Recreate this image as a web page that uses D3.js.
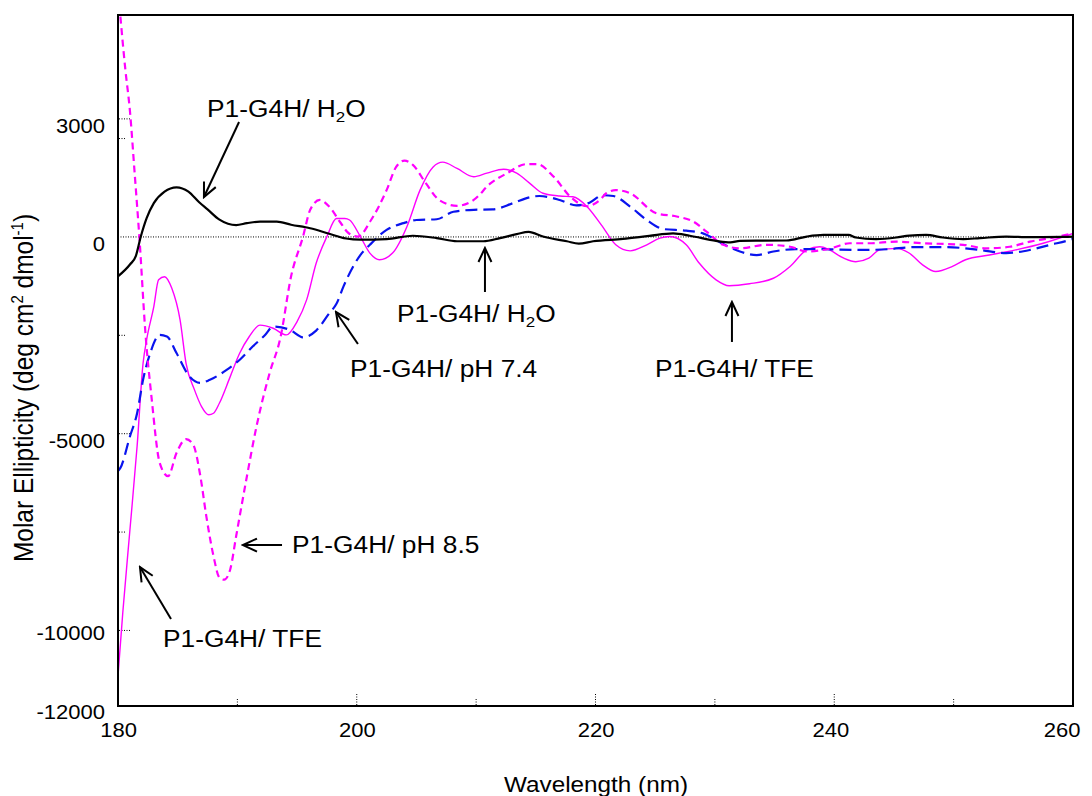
<!DOCTYPE html>
<html>
<head>
<meta charset="utf-8">
<script src="https://cdn.jsdelivr.net/npm/d3@7"></script>
<style>
  html, body { margin: 0; padding: 0; background: #fff; }
  svg { display: block; font-family: "Liberation Sans", Arial, Helvetica, sans-serif; }
</style>
</head>
<body>
<svg id="chart" width="1092" height="796"></svg>
<script>
// ---------- data (wavelength nm, molar ellipticity) ----------
const h2oData = [[180.0,-1000],[181.0,-700],[181.5,-480],[181.9,0],[182.4,480],[183.0,860],[183.9,1150],[184.9,1260],[185.9,1150],[186.8,880],[187.5,700],[188.5,440],[189.9,300],[190.8,350],[191.9,390],[193.3,390],[194.5,310],[196.1,220],[197.7,80],[199.1,-40],[200.3,-70],[202.5,-55],[204.7,30],[206.7,-30],[208.4,-110],[210.6,-110],[212.0,-30],[213.4,70],[214.4,130],[215.6,10],[217.6,-110],[218.6,-170],[219.8,-110],[222.3,-50],[224.5,25],[226.5,90],[227.9,30],[230.1,-100],[231.3,-140],[232.1,-100],[236.0,-90],[237.7,10],[239.1,50],[241.2,50],[241.8,-15],[243.5,-55],[245.2,-15],[246.3,35],[247.7,50],[249.1,-15],[250.8,-55],[252.2,-30],[254.4,10],[256.4,-5],[259.2,0],[260,10]];

const ph85Data = [[180.2,5600],[180.6,4300],[181.0,3200],[181.4,1600],[181.8,-50],[182.3,-2450],[182.8,-4050],[183.5,-5750],[184.2,-6080],[184.9,-5490],[185.7,-5140],[186.3,-5280],[186.9,-6080],[187.4,-7100],[188.0,-8110],[188.5,-8660],[188.9,-8710],[189.4,-8450],[189.9,-7600],[190.8,-6080],[191.6,-4820],[192.7,-3460],[193.6,-2570],[194.5,-1000],[195.5,10],[196.1,690],[196.9,940],[197.7,770],[198.6,380],[199.3,100],[200.1,10],[201.2,430],[202.5,1190],[203.3,1780],[204.0,1940],[204.7,1830],[205.8,1360],[206.9,940],[208.4,790],[209.8,940],[211.2,1360],[212.6,1620],[214.2,1850],[215.1,1850],[216.5,1530],[217.9,1020],[219.3,780],[220.4,950],[220.9,1110],[221.7,1190],[222.9,1110],[225.1,600],[226.8,520],[228.2,390],[229.3,135],[230.7,-200],[232.1,-290],[234.3,-200],[236.3,-250],[237.7,-370],[239.6,-300],[241.3,-160],[242.9,-160],[245.2,-120],[247.4,-160],[250.8,-200],[252.7,-290],[254.7,-250],[256.4,-120],[258.1,-30],[260,90]];

const ph74Data = [[180.0,-5950],[180.2,-5870],[181.0,-5070],[181.6,-4480],[182.1,-3630],[182.7,-2950],[183.5,-2490],[184.1,-2530],[184.9,-2950],[186.0,-3550],[186.9,-3710],[187.7,-3630],[189.1,-3380],[190.2,-3120],[191.3,-2780],[192.3,-2500],[193.0,-2280],[194.4,-2360],[195.5,-2550],[196.6,-2380],[197.7,-1940],[198.3,-1700],[198.9,-1250],[199.7,-750],[200.3,-460],[201.1,-200],[202.5,180],[203.9,350],[205.0,430],[206.7,450],[208.1,640],[209.8,690],[211.4,700],[213.1,860],[214.5,1010],[215.3,1040],[217.0,940],[218.4,800],[219.5,870],[220.6,1060],[221.5,1040],[222.9,770],[224.3,430],[225.7,200],[227.6,160],[229.0,90],[230.7,-180],[232.1,-370],[233.5,-460],[234.9,-370],[236.8,-310],[239.1,-310],[240.2,-320],[242.4,-330],[244.6,-310],[246.6,-260],[249.4,-260],[252.2,-330],[254.4,-410],[256.4,-330],[258.1,-200],[259.7,-80],[260,-50]];

const tfeData = [[180.0,-11160],[180.4,-9550],[181.0,-7440],[181.6,-5320],[182.1,-3210],[182.4,-2610],[183.0,-1770],[183.4,-1090],[183.9,-1010],[184.5,-1300],[185.2,-2110],[185.7,-3210],[186.4,-3880],[187.0,-4310],[187.6,-4520],[188.0,-4480],[188.5,-4220],[189.4,-3550],[190.2,-2950],[191.0,-2530],[191.9,-2240],[193.0,-2320],[194.1,-2490],[195.0,-2150],[195.8,-1600],[196.6,-670],[197.5,10],[198.3,470],[199.0,470],[199.4,430],[200.3,10],[201.1,-410],[201.9,-580],[203.0,-410],[204.2,260],[205.3,1190],[206.4,1780],[207.2,1900],[208.4,1740],[209.8,1530],[210.9,1620],[212.3,1720],[213.4,1620],[214.5,1360],[215.6,1110],[217.0,1040],[218.1,1020],[219.3,770],[220.5,300],[221.7,-200],[222.9,-355],[224.3,-200],[225.4,-30],[226.2,10],[227.6,-200],[228.7,-670],[230.1,-1090],[231.2,-1240],[232.9,-1190],[234.9,-1050],[236.3,-750],[237.7,-330],[238.8,-250],[239.6,-330],[240.8,-540],[241.8,-630],[242.9,-540],[243.8,-330],[245.2,-290],[246.3,-415],[247.4,-710],[248.5,-880],[249.9,-750],[251.0,-580],[253.0,-460],[255.2,-330],[257.5,-160],[260,90]];

const xTickLabels = [180, 200, 220, 240, 260];
const xMinorTicks = [190, 200, 210, 220, 230, 240, 250];
const yTickLabels = [3000, 0, -5000, -10000, -12000];
const yMinorTicks = [3000, 2500, -2500, -5000, -7500, -10000];

// annotations: label anchor (wl, value) and arrow from -> to in data units
const annotations = [
  { text: "P1-G4H/ ", sub: "H2O", at: [187.46, 3048], from: [190.14, 2920], to: [187.20, 1014] },
  { text: "P1-G4H/ ", sub: "H2O", at: [203.37, -2163], from: [210.74, -1400], to: [210.74, -282] },
  { text: "P1-G4H/ pH 7.4", at: [199.43, -3561], from: [200.10, -2722], to: [198.26, -1908] },
  { text: "P1-G4H/ pH 8.5", at: [194.58, -8033], from: [193.74, -7830], to: [190.47, -7830] },
  { text: "P1-G4H/ TFE", at: [183.77, -10422], from: [184.44, -9710], to: [181.84, -8389] },
  { text: "P1-G4H/ TFE", at: [224.98, -3561], from: [231.43, -2669], to: [231.43, -1653] }
];

// ---------- layout ----------
const svg = d3.select("#chart");
const L = 118, R = 1073, T = 15, B = 706;
const SX = 1.13; // horizontal glyph stretch of the original
const x = d3.scaleLinear().domain([180, 260]).range([L, R]);
const y = d3.scaleLinear().domain([-11920, 5640]).range([B, T]);
const fmt = d => String(d);

const defs = svg.append("defs");
defs.append("clipPath").attr("id", "clip")
  .append("rect").attr("x", L).attr("y", T).attr("width", R - L).attr("height", B - T);
defs.append("marker").attr("id", "arrow")
  .attr("markerUnits", "userSpaceOnUse")
  .attr("viewBox", "-1 -8 17 16").attr("refX", 14).attr("refY", 0)
  .attr("markerWidth", 17).attr("markerHeight", 16).attr("orient", "auto")
  .append("path").attr("d", "M0,-6.5 L14,0 L0,6.5")
  .attr("fill", "none").attr("stroke", "#000").attr("stroke-width", 2);

// zero line
svg.append("line").attr("x1", L).attr("x2", R).attr("y1", y(0)).attr("y2", y(0))
  .attr("stroke", "#000").attr("stroke-width", 1).attr("stroke-dasharray", "1,1.5");

// minor ticks
svg.selectAll(".ymt").data(yMinorTicks).enter().append("line")
  .attr("x1", L + 1).attr("x2", d => L + 1 + (d % 5000 === 0 || d === 3000 ? 12 : 7))
  .attr("y1", d => y(d)).attr("y2", d => y(d))
  .attr("stroke", "#000").attr("stroke-width", 1).attr("stroke-dasharray", "1,1.5");
svg.selectAll(".xmt").data(xMinorTicks).enter().append("line")
  .attr("x1", d => x(d)).attr("x2", d => x(d))
  .attr("y1", B - 1).attr("y2", d => B - 1 - (d % 20 === 0 ? 12 : 6))
  .attr("stroke", "#000").attr("stroke-width", 1).attr("stroke-dasharray", "1,1.5");

// series
const line = d3.line().x(d => x(d[0])).y(d => y(d[1])).curve(d3.curveMonotoneX);
const plot = svg.append("g").attr("clip-path", "url(#clip)");
plot.append("path").datum(tfeData).attr("d", line)
  .attr("fill", "none").attr("stroke", "#ff00ff").attr("stroke-width", 1.4);
plot.append("path").datum(ph74Data).attr("d", line)
  .attr("fill", "none").attr("stroke", "#0a14ee").attr("stroke-width", 2.2)
  .attr("stroke-dasharray", "12,6");
plot.append("path").datum(ph85Data).attr("d", line)
  .attr("fill", "none").attr("stroke", "#ff00ff").attr("stroke-width", 2.2)
  .attr("stroke-dasharray", "7,4.5");
plot.append("path").datum(h2oData).attr("d", line)
  .attr("fill", "none").attr("stroke", "#000").attr("stroke-width", 2.2);

// frame
svg.append("rect").attr("x", L).attr("y", T).attr("width", R - L).attr("height", B - T)
  .attr("fill", "none").attr("stroke", "#000").attr("stroke-width", 2);

// axes (labels only)
const xAxis = svg.append("g").attr("transform", `translate(0,${B})`)
  .call(d3.axisBottom(x).tickValues(xTickLabels).tickSize(0).tickPadding(17).tickFormat(fmt));
xAxis.select(".domain").remove();
xAxis.selectAll("text").attr("font-size", 19.5).attr("fill", "#000")
  .attr("font-family", "'Liberation Sans', Arial, sans-serif")
  .attr("transform", `scale(${SX},1)`)
  .attr("text-anchor", d => d === 260 ? "end" : "middle")
  .attr("x", d => d === 260 ? 7 / SX : (d === 240 ? -4 / SX : 0));

const yAxis = svg.append("g").attr("transform", `translate(${L},0)`)
  .call(d3.axisLeft(y).tickValues(yTickLabels).tickSize(0).tickFormat(fmt));
yAxis.select(".domain").remove();
yAxis.selectAll("text").attr("font-size", 19.5).attr("fill", "#000")
  .attr("font-family", "'Liberation Sans', Arial, sans-serif")
  .attr("transform", `scale(${SX},1)`)
  .attr("x", -13 / SX).attr("dy", d => d <= -10000 ? 9 : 13.5);

// axis titles
svg.append("text").attr("transform", `translate(596,792) scale(${SX},1)`)
  .attr("text-anchor", "middle").attr("font-size", 21.5).text("Wavelength (nm)");

const yt = svg.append("text").attr("transform", `translate(33,388) scale(${SX},1) rotate(-90)`)
  .attr("text-anchor", "middle").attr("font-size", 24.5);
yt.append("tspan").text("Molar Ellipticity (deg cm");
yt.append("tspan").attr("font-size", 15).attr("dy", -9).text("2");
yt.append("tspan").attr("dy", 9).text(" dmol");
yt.append("tspan").attr("font-size", 15).attr("dy", -9).text("-1");
yt.append("tspan").attr("dy", 9).text(")");

// annotations
annotations.forEach(a => {
  svg.append("line")
    .attr("x1", x(a.from[0])).attr("y1", y(a.from[1]))
    .attr("x2", x(a.to[0])).attr("y2", y(a.to[1]))
    .attr("stroke", "#000").attr("stroke-width", 2).attr("marker-end", "url(#arrow)");
  const t = svg.append("text")
    .attr("transform", `translate(${x(a.at[0])},${y(a.at[1])}) scale(${SX},1)`)
    .attr("font-size", 23.3).attr("fill", "#000");
  t.append("tspan").text(a.text);
  if (a.sub) {
    t.append("tspan").text("H");
    t.append("tspan").attr("font-size", 15).attr("dy", 5).text("2");
    t.append("tspan").attr("dy", -5).text("O");
  }
});
</script>
</body>
</html>
